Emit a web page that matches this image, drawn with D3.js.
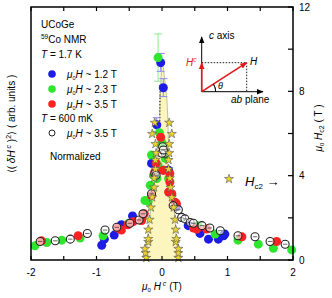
<!DOCTYPE html>
<html>
<head>
<meta charset="utf-8">
<script src="https://cdn.jsdelivr.net/npm/d3@7"></script>
<style>
  body { margin: 0; background: #fff; }
  text { font-family: "Liberation Sans", Arial, sans-serif; }
</style>
</head>
<body>
<div id="chart"></div>
<script>
// data: [H^c (T), value]
const blue12 = [[-0.92, 0.70], [-0.88, 0.99], [-0.73, 1.18], [-0.62, 1.67], [-0.45, 2.09],
  [-0.16, 4.58], [-0.13, 4.66], [-0.08, 6.41], [-0.02, 9.36], [0.02, 8.17], [0.02, 4.26],
  [0.10, 4.26], [0.22, 2.54], [0.40, 1.63], [0.58, 1.26], [0.71, 0.99], [0.86, 0.99],
  [0.94, 1.15], [0.96, 1.23]]
const green23 = [[-1.94, 0.67], [-1.76, 0.83], [-1.53, 0.94], [-1.25, 1.04], [-0.90, 1.15],
  [-0.51, 1.74], [-0.26, 2.82], [-0.21, 2.78], [-0.18, 3.54], [-0.16, 4.98], [-0.13, 4.02],
  [-0.06, 4.50], [-0.08, 3.86], [-0.06, 9.60], [-0.04, 6.04], [0.00, 5.56], [0.05, 4.82],
  [0.10, 3.86], [0.55, 1.63], [0.81, 1.23], [1.16, 0.94], [1.47, 0.75], [1.70, 0.56], [1.98, 0.48]]
const red35 = [[-1.84, 0.91], [-1.28, 1.15], [-0.68, 1.52], [-0.62, 1.42], [-0.52, 1.67],
  [-0.44, 1.82], [-0.31, 1.87], [-0.27, 2.19], [-0.16, 3.06], [-0.11, 4.18], [-0.09, 4.58],
  [-0.02, 5.82], [0.02, 4.26], [0.12, 4.10], [0.12, 3.70], [0.10, 3.22], [0.15, 3.14],
  [0.20, 2.74], [0.22, 2.67], [0.48, 1.52], [0.53, 1.47], [0.68, 1.47], [1.22, 1.10], [1.75, 0.88]]
const open35 = [[-1.86, 0.88], [-1.63, 0.91], [-1.40, 0.99], [-1.14, 1.26], [-0.87, 1.42],
  [-0.69, 1.55], [-0.49, 1.74], [-0.35, 1.90], [-0.29, 2.19], [-0.16, 3.14], [-0.11, 4.10],
  [-0.09, 4.02], [0.01, 5.37], [0.05, 5.06], [0.00, 5.06], [0.02, 5.22], [0.17, 2.58],
  [0.25, 2.38], [0.30, 2.02], [0.35, 1.95], [0.43, 1.78], [0.48, 1.74], [0.61, 1.63],
  [0.73, 1.52], [0.89, 1.39], [1.16, 1.15], [1.42, 1.10], [1.65, 0.88], [1.88, 0.75]]
// error bars: [H^c, low, high, colour]
const errBars = [[-0.06, 8.48, 10.72, '#8ee88e'], [-0.02, 8.95, 9.8, '#8a8af0'],
  [0.02, 7.75, 8.6, '#8a8af0'], [-0.08, 6.1, 6.75, '#8a8af0']]
// Hc2 stars: [H^c, Hc2]
const hc2Stars = [[-0.24, 0.10], [0.25, 0.10], [-0.25, 0.33], [0.25, 0.33], [-0.26, 0.53], [0.25, 0.53],
  [-0.21, 0.86], [0.21, 0.86], [-0.21, 1.0], [0.22, 1.0], [-0.21, 1.44], [0.21, 1.44],
  [-0.19, 1.91], [0.20, 1.91], [-0.17, 2.49], [0.18, 2.49], [-0.15, 2.97], [0.15, 2.97],
  [-0.12, 3.44], [0.13, 3.44], [-0.12, 3.88], [0.12, 3.88], [-0.10, 4.31], [0.10, 4.31],
  [-0.10, 4.74], [0.10, 4.74], [-0.09, 5.07], [0.11, 5.07], [-0.10, 5.50], [0.11, 5.50],
  [-0.15, 5.98], [0.15, 5.98], [-0.11, 6.51], [0.11, 6.51]]
// outline of the yellow Hc2 region
const hc2Area = [[-0.27, 0], [-0.25, 0.33], [-0.22, 0.86], [-0.21, 1.44], [-0.19, 1.91],
  [-0.17, 2.49], [-0.15, 2.97], [-0.12, 3.44], [-0.11, 3.88], [-0.09, 4.31], [-0.08, 4.74],
  [-0.07, 5.3], [-0.05, 6.0], [-0.035, 6.7], [-0.03, 7.6], [-0.015, 8.6], [0, 9.5],
  [0.005, 9.5], [0.04, 8.6], [0.075, 7.6], [0.09, 6.65], [0.095, 6.0], [0.1, 5.3],
  [0.09, 4.74], [0.09, 4.31], [0.12, 3.88], [0.13, 3.44], [0.15, 2.97], [0.18, 2.49],
  [0.20, 1.91], [0.21, 1.44], [0.22, 0.86], [0.25, 0.33], [0.26, 0]]
const dottedEdge = [[-0.03, 8.3], [-0.035, 6.2]]
const xTicks = [-2, -1, 0, 1, 2]
const xMinor = d3.range(-2, 2.01, 0.5)
const yTicks = [0, 4, 8, 12]
const yMinor = d3.range(0, 12.1, 2)
const legendRows = [
  { label: '1.2 T', color: '#1c1ce6' },
  { label: '2.3 T', color: '#2ee62e' },
  { label: '3.5 T', color: '#ff2222' }
]

const W = 332, H = 298
const svg = d3.select('#chart').append('svg').attr('width', W).attr('height', H)

const x = d3.scaleLinear().domain([-2, 2]).range([31, 293])
const yR = d3.scaleLinear().domain([0, 12]).range([260, 7])
const yL = yR.copy() // arbitrary units, same frame

// yellow region
svg.append('path')
  .datum(hc2Area)
  .attr('d', d3.line().x(d => x(d[0])).y(d => yR(d[1])))
  .attr('fill', '#fcf5bd')
  .attr('stroke', '#9a9a6a')
  .attr('stroke-width', 0.6)

svg.append('path')
  .datum(dottedEdge)
  .attr('d', d3.line().x(d => x(d[0])).y(d => yR(d[1])))
  .attr('stroke', '#111')
  .attr('stroke-width', 1.2)
  .attr('stroke-dasharray', '1,2.2')
  .attr('fill', 'none')

// error bars
const eb = svg.append('g')
errBars.forEach(function (d) {
  const cx = x(d[0])
  eb.append('line').attr('x1', cx).attr('x2', cx).attr('y1', yL(d[1])).attr('y2', yL(d[2]))
    .attr('stroke', d[3]).attr('stroke-width', 1)
  ;[d[1], d[2]].forEach(function (v) {
    eb.append('line').attr('x1', cx - 4).attr('x2', cx + 4).attr('y1', yL(v)).attr('y2', yL(v))
      .attr('stroke', d[3]).attr('stroke-width', 1)
  })
})

// filled dots
const series = [blue12, green23, red35]
series.forEach(function (data, i) {
  svg.append('g').selectAll('circle')
    .data(data)
    .join('circle')
    .attr('cx', d => x(d[0]))
    .attr('cy', d => yL(d[1]))
    .attr('r', 4.5)
    .attr('fill', legendRows[i].color)
})

// open circles (600 mK)
const oc = svg.append('g').selectAll('g')
  .data(open35)
  .join('g')
  .attr('transform', d => `translate(${x(d[0])},${yL(d[1])})`)
oc.append('circle').attr('r', 4).attr('fill', 'rgba(255,255,255,0.6)')
  .attr('stroke', '#222').attr('stroke-width', 1.1)
oc.append('line').attr('x1', -2.2).attr('x2', 2.2).attr('stroke', '#444').attr('stroke-width', 0.8)

// Hc2 stars
const star = d3.symbol().type(d3.symbolStar).size(26)
svg.append('g').selectAll('path')
  .data(hc2Stars)
  .join('path')
  .attr('transform', d => `translate(${x(d[0])},${yR(d[1])})`)
  .attr('d', star)
  .attr('fill', '#ecd42a')
  .attr('stroke', '#555')
  .attr('stroke-width', 0.6)

// frame
svg.append('rect')
  .attr('x', x(-2)).attr('y', yR(12))
  .attr('width', x(2) - x(-2)).attr('height', yR(0) - yR(12))
  .attr('fill', 'none').attr('stroke', '#000').attr('stroke-width', 1.5)

// ticks
const tk = svg.append('g').attr('stroke', '#000').attr('stroke-width', 1.2)
xMinor.forEach(function (v) {
  tk.append('line').attr('x1', x(v)).attr('x2', x(v)).attr('y1', yR(0)).attr('y2', yR(0) - 4)
  tk.append('line').attr('x1', x(v)).attr('x2', x(v)).attr('y1', yR(12)).attr('y2', yR(12) + 4)
})
yMinor.forEach(function (v) {
  tk.append('line').attr('x1', x(2)).attr('x2', x(2) - 5).attr('y1', yR(v)).attr('y2', yR(v))
})

svg.append('g').selectAll('text')
  .data(xTicks)
  .join('text')
  .attr('x', d => x(d))
  .attr('y', 276)
  .attr('text-anchor', 'middle')
  .style('font-size', '10px')
  .text(d => d)

svg.append('g').selectAll('text')
  .data(yTicks)
  .join('text')
  .attr('x', 299)
  .attr('y', d => yR(d) + 3.5)
  .style('font-size', '10px')
  .text(d => d)

// axis titles
const xt = svg.append('text').attr('x', 162).attr('y', 290).attr('text-anchor', 'middle')
  .style('font-size', '10px')
xt.append('tspan').attr('font-style', 'italic').text('μ')
xt.append('tspan').attr('font-size', '6px').attr('dy', 2).text('0')
xt.append('tspan').attr('font-style', 'italic').attr('dy', -2).text(' H')
xt.append('tspan').attr('font-style', 'italic').attr('font-size', '7px').attr('dy', -4).text(' c')
xt.append('tspan').attr('dy', 4).text(' (T)')

const rt = svg.append('text').attr('transform', 'translate(322,128) rotate(-90)')
  .attr('text-anchor', 'middle').style('font-size', '10px')
rt.append('tspan').attr('font-style', 'italic').text('μ')
rt.append('tspan').attr('font-size', '6px').attr('dy', 2).text('0')
rt.append('tspan').attr('font-style', 'italic').attr('dy', -2).text(' H')
rt.append('tspan').attr('font-size', '7px').attr('dy', 2).text('c2')
rt.append('tspan').attr('dy', -2).text(' ( T )')

const lt = svg.append('text').attr('transform', 'translate(15,124) rotate(-90)')
  .attr('text-anchor', 'middle').style('font-size', '10px')
lt.append('tspan').text('⟨( ')
lt.append('tspan').attr('font-style', 'italic').text('δH')
lt.append('tspan').attr('font-style', 'italic').attr('font-size', '7px').attr('dy', -4).text(' c')
lt.append('tspan').attr('dy', 4).text(' )')
lt.append('tspan').attr('font-size', '7px').attr('dy', -4).text('2')
lt.append('tspan').attr('dy', 4).text('⟩ ( arb. units )')

// legend block
const lg = svg.append('g').style('font-size', '10px')
lg.append('text').attr('x', 41).attr('y', 28).text('UCoGe')
const nm = lg.append('text').attr('x', 41).attr('y', 43)
nm.append('tspan').attr('font-size', '6.5px').attr('dy', -4).text('59')
nm.append('tspan').attr('dy', 4).text('Co NMR')
const t1 = lg.append('text').attr('x', 41).attr('y', 58)
t1.append('tspan').attr('font-style', 'italic').text('T')
t1.append('tspan').text(' = 1.7 K')

function fieldLabel (sel, val) {
  sel.append('tspan').attr('font-style', 'italic').text('μ')
  sel.append('tspan').attr('font-size', '5.5px').attr('dy', 2).text('0')
  sel.append('tspan').attr('font-style', 'italic').attr('dy', -2).text('H')
  sel.append('tspan').text(' ~ ' + val)
}
legendRows.forEach(function (r, i) {
  const cy = 74 + i * 15
  lg.append('circle').attr('cx', 52).attr('cy', cy).attr('r', 3.8).attr('fill', r.color)
  fieldLabel(lg.append('text').attr('x', 67).attr('y', cy + 3.5), r.label)
})
const t2 = lg.append('text').attr('x', 41).attr('y', 122)
t2.append('tspan').attr('font-style', 'italic').text('T')
t2.append('tspan').text(' = 600 mK')
lg.append('circle').attr('cx', 52).attr('cy', 133).attr('r', 3).attr('fill', 'none')
  .attr('stroke', '#222').attr('stroke-width', 1)
fieldLabel(lg.append('text').attr('x', 67).attr('y', 136.5), '3.5 T')
lg.append('text').attr('x', 50).attr('y', 160).text('Normalized')

// Hc2 key on the right
svg.append('path').attr('transform', 'translate(229,179)').attr('d', star)
  .attr('fill', '#ecd42a').attr('stroke', '#555').attr('stroke-width', 0.6)
const hk = svg.append('text').attr('x', 245).attr('y', 186).style('font-size', '13px')
hk.append('tspan').attr('font-style', 'italic').text('H')
hk.append('tspan').attr('font-size', '8px').attr('dy', 3).text('c2')
hk.append('tspan').attr('dy', -3).text(' →')

// inset: field geometry
const defs = svg.append('defs')
;[['ahBlack', '#000'], ['ahRed', '#e01818']].forEach(function (m) {
  defs.append('marker').attr('id', m[0]).attr('viewBox', '0 0 10 10')
    .attr('refX', 9).attr('refY', 5).attr('markerWidth', 7).attr('markerHeight', 7)
    .attr('markerUnits', 'userSpaceOnUse').attr('orient', 'auto')
    .append('path').attr('d', 'M0,1 L10,5 L0,9 Z').attr('fill', m[1])
})
const ox = 201.7, oy = 91.7
const inset = svg.append('g')
inset.append('line').attr('x1', ox).attr('y1', oy).attr('x2', ox).attr('y2', 37)
  .attr('stroke', '#000').attr('stroke-width', 1).attr('marker-end', 'url(#ahBlack)')
inset.append('line').attr('x1', ox).attr('y1', oy).attr('x2', 263).attr('y2', oy)
  .attr('stroke', '#000').attr('stroke-width', 1).attr('marker-end', 'url(#ahBlack)')
inset.append('line').attr('x1', ox).attr('y1', 62.7).attr('x2', 246.7).attr('y2', 62.7)
  .attr('stroke', '#000').attr('stroke-width', 0.9).attr('stroke-dasharray', '1.5,1.5')
inset.append('line').attr('x1', 246.7).attr('y1', 62.7).attr('x2', 246.7).attr('y2', oy)
  .attr('stroke', '#000').attr('stroke-width', 0.9).attr('stroke-dasharray', '1.5,1.5')
inset.append('line').attr('x1', ox).attr('y1', oy).attr('x2', ox).attr('y2', 62.7)
  .attr('stroke', '#e01818').attr('stroke-width', 1.6).attr('marker-end', 'url(#ahRed)')
inset.append('line').attr('x1', ox).attr('y1', oy).attr('x2', 246.7).attr('y2', 62.7)
  .attr('stroke', '#e01818').attr('stroke-width', 1.6).attr('marker-end', 'url(#ahRed)')
inset.append('path')
  .attr('d', d3.arc().innerRadius(14).outerRadius(14).startAngle(Math.PI / 2 - 0.57).endAngle(Math.PI / 2)())
  .attr('transform', `translate(${ox},${oy})`)
  .attr('fill', 'none').attr('stroke', '#000').attr('stroke-width', 0.8)
const ins = inset.append('g').style('font-size', '10px')
const ca = ins.append('text').attr('x', 209).attr('y', 39)
ca.append('tspan').attr('font-style', 'italic').text('c')
ca.append('tspan').text(' axis')
const ab = ins.append('text').attr('x', 231).attr('y', 103)
ab.append('tspan').attr('font-style', 'italic').text('ab')
ab.append('tspan').text(' plane')
ins.append('text').attr('x', 250).attr('y', 65).attr('font-style', 'italic').text('H')
ins.append('text').attr('x', 218).attr('y', 89).attr('font-style', 'italic').style('font-size', '9px').text('θ')
const hc = ins.append('text').attr('x', 186).attr('y', 66).attr('fill', '#e01818').attr('font-style', 'italic')
hc.append('tspan').text('H')
hc.append('tspan').attr('font-size', '6.5px').attr('dy', -4).text('c')
</script>
</body>
</html>
